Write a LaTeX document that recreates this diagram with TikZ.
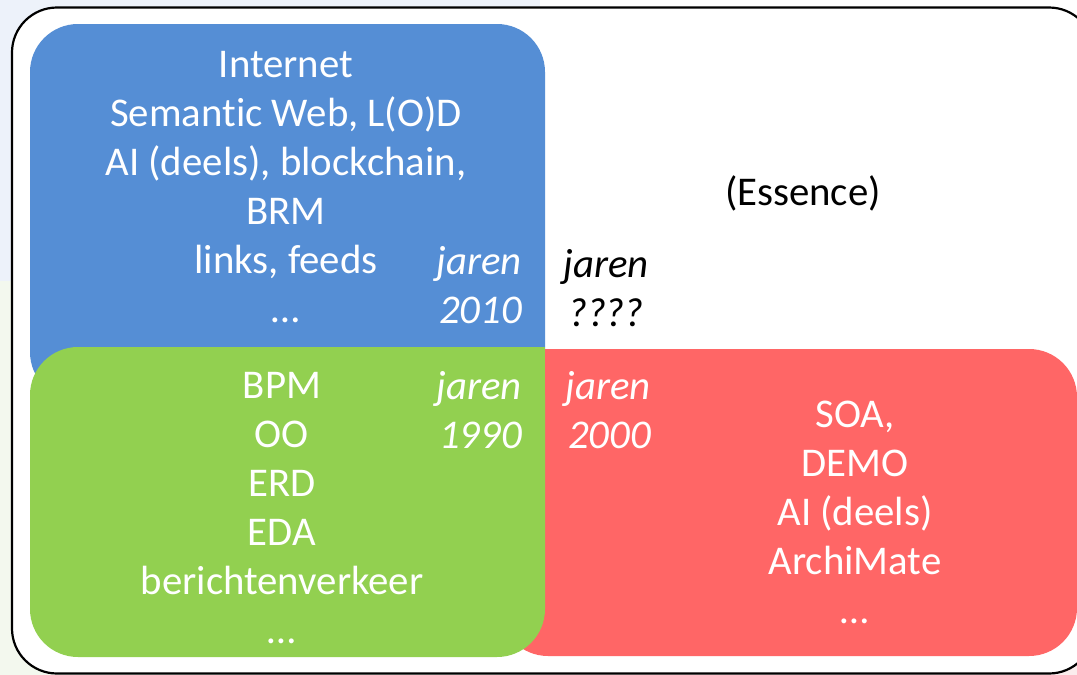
\documentclass[tikz,border=0pt]{standalone}
\usepackage{fontspec}
\setmainfont{Carlito}[Ligatures=NoCommon]
\newcommand{\bigsz}{\fontsize{40.8}{49}\selectfont}
\definecolor{bluebox}{HTML}{558ED5}
\definecolor{greenbox}{HTML}{92D050}
\definecolor{redbox}{HTML}{FF6666}
\definecolor{bgblue}{HTML}{EDF2FA}
\definecolor{bggreen}{HTML}{F3F8EE}
\definecolor{bgred}{HTML}{FBEDED}
\tikzset{
  box/.style={rounded corners=48pt},
  maintxt/.style={font=\bigsz, text=white, inner sep=0pt, align=center, anchor=base},
  yeartxt/.style={font=\bigsz\itshape, text=white, inner sep=0pt, align=right, anchor=base east},
  darktxt/.style={font=\bigsz, text=black, inner sep=0pt, align=center, anchor=base}
}
\begin{document}
\begin{tikzpicture}[x=1pt,y=-1pt]
\useasboundingbox (0,0) rectangle (1077,675);
\clip (0,0) rectangle (1077,675);
% page background pieces
\fill[bgblue] (0,0) rectangle (540,281);
\fill[bggreen] (0,281) rectangle (540,675);
\fill[bgred] (540,350) rectangle (1077,675);
% outer frame
\draw[fill=white, line width=2.2pt, rounded corners=45pt] (12,7.5) rectangle (1094,673.5);
% coloured areas
\fill[bluebox, box] (30,24) rectangle (545,400);
\fill[redbox, box] (500,349) rectangle (1077,656);
\fill[greenbox, box] (30,347) rectangle (545,657);
\fill[greenbox] (480,347) rectangle (545,420);
% texts (base anchor = baseline of the last line)
\node[maintxt] (blue) at (286,322) {Internet\\Semantic Web, L(O)D\\AI (deels), blockchain,\\BRM\\links, feeds\\…};
\node[yeartxt] (y2010) at (522,323) {jaren\\2010};
\node[darktxt, font=\bigsz\itshape] (yq) at (606,326) {jaren\\????};
\node[darktxt] (ess) at (803,205) {(Essence)};
\node[maintxt] (green) at (282,643) {BPM\\OO\\ERD\\EDA\\berichtenverkeer\\…};
\node[yeartxt] (y1990) at (522,448) {jaren\\1990};
\node[yeartxt] (y2000) at (651,448) {jaren\\2000};
\node[maintxt] (red) at (855,623) {SOA,\\DEMO\\AI (deels)\\ArchiMate\\…};
\end{tikzpicture}
\end{document}
